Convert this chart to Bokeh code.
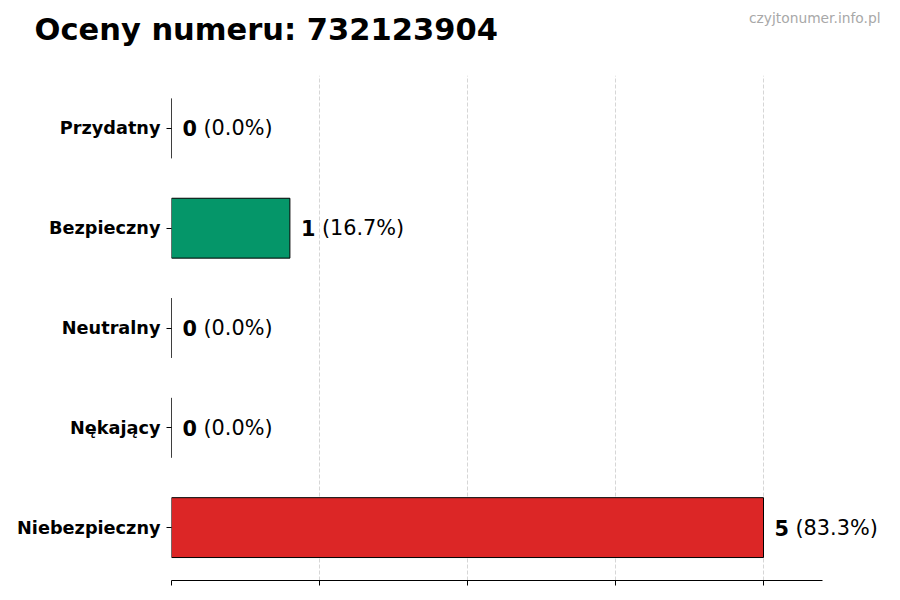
from bokeh.plotting import figure
from bokeh.layouts import column
from bokeh.models import FactorRange, Range1d, FixedTicker, Label, LabelSet, ColumnDataSource, CustomJSTickFormatter
from bokeh.core.properties import value
from bokeh.embed import file_html
from bokeh.resources import INLINE

# data (bottom to top)
categories = ["Niebezpieczny", "Nękający", "Neutralny", "Bezpieczny", "Przydatny"]
counts = [5, 0, 0, 1, 0]
colors = ["#dc2626", "#dc2626", "#6b7280", "#059669", "#059669"]
x_ticks = [0, 1.25, 2.5, 3.75, 5]
title_text = "Oceny numeru: 732123904"
watermark = "czyjtonumer.info.pl"

total = sum(counts)
count_labels = [str(c) for c in counts]
pct_labels = ["(%.1f%%)" % (c / total * 100) for c in counts]

src = ColumnDataSource(dict(cat=categories, val=counts, color=colors,
                            cnt=count_labels, pct=pct_labels))

W = 900
HEAD_H = 75
MAIN_H = 525
LEFT = 171
PX_PER_UNIT = 118.4
AXIS_END = 5.5

# ---------- header (title + watermark) ----------
head = figure(width=W, height=HEAD_H, output_backend="svg", toolbar_location=None,
              x_range=Range1d(0, W), y_range=Range1d(0, HEAD_H),
              x_axis_location=None, y_axis_location=None,
              min_border_left=0, min_border_right=0, min_border_top=0, min_border_bottom=0)
head.frame_align = False
head.title = None
head.outline_line_color = None
head.grid.visible = False
head.add_layout(Label(x=34, y=46, x_units="screen", y_units="screen",
                      text=title_text, text_font="DejaVu Sans", text_font_style="bold",
                      text_font_size="30.5px", text_color="black", text_baseline="alphabetic"))
head.add_layout(Label(x=880, y=HEAD_H - 17, x_units="screen", y_units="screen",
                      text=watermark, text_font="DejaVu Sans", text_font_size="13.8px",
                      text_color="#a8a8a8", text_align="right", text_baseline="middle"))

# ---------- main chart ----------
p = figure(width=W, height=MAIN_H, output_backend="svg", toolbar_location=None,
           y_range=FactorRange(*categories, range_padding=0.012),
           x_range=Range1d(0, (W - LEFT) / PX_PER_UNIT),
           min_border_left=LEFT, min_border_right=0, min_border_top=0, min_border_bottom=20)
p.frame_align = False
p.title = None
p.outline_line_color = None

p.hbar(y="cat", left=0, right="val", height=0.6, fill_color="color",
       line_color="black", line_width=1, source=src)

p.add_layout(LabelSet(x="val", y="cat", text="cnt", x_offset=11, source=src,
                      text_font=value("DejaVu Sans"), text_font_style="bold",
                      text_font_size="20.8px", text_baseline="middle", text_align="left",
                      text_color="black"))
p.add_layout(LabelSet(x="val", y="cat", text="pct", x_offset=32, source=src,
                      text_font=value("DejaVu Sans"), text_font_style="normal",
                      text_font_size="20.8px", text_baseline="middle", text_align="left",
                      text_color="black"))

# axes
p.xaxis.bounds = (0, AXIS_END)
p.xaxis.ticker = FixedTicker(ticks=x_ticks)
p.xaxis.formatter = CustomJSTickFormatter(code="return ''")
p.xaxis.major_label_text_font_size = "1px"
p.xaxis.major_label_standoff = 0
p.xaxis.major_tick_in = 0
p.xaxis.major_tick_out = 5
p.xaxis.minor_tick_line_color = None
p.xaxis.axis_line_color = "black"
p.xaxis.major_tick_line_color = "black"

p.yaxis.axis_line_color = None
p.yaxis.major_tick_in = 0
p.yaxis.major_tick_out = 5
p.yaxis.major_tick_line_color = "black"
p.yaxis.major_label_standoff = 6
p.yaxis.major_label_text_font = "DejaVu Sans"
p.yaxis.major_label_text_font_style = "bold"
p.yaxis.major_label_text_font_size = "17.7px"
p.yaxis.major_label_text_color = "black"

p.ygrid.grid_line_color = None
p.xgrid.ticker = FixedTicker(ticks=x_ticks)
p.xgrid.grid_line_color = "#cccccc"
p.xgrid.grid_line_dash = "4 2"
p.xgrid.grid_line_width = 0.8

layout = column(head, p, spacing=0)
open("out.html", "w").write(file_html(layout, INLINE))
